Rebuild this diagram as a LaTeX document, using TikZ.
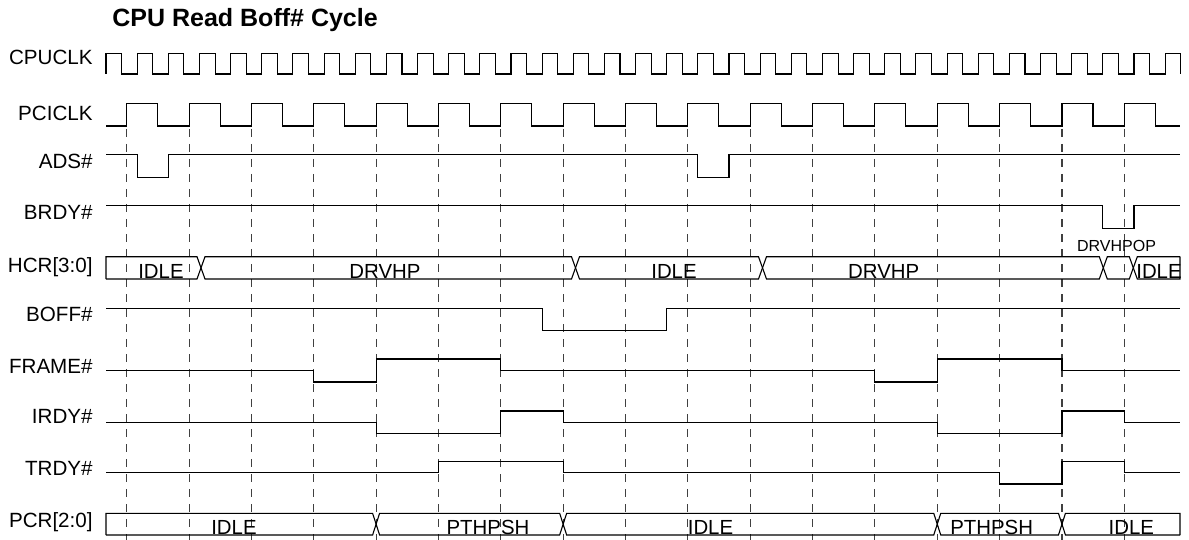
\documentclass[tikz,border=0pt]{standalone}
\usepackage{fontspec}
\setmainfont{Liberation Sans}

\begin{document}
\begin{tikzpicture}[x=0.5pt, y=-0.5pt,
    declare function={pe(\k)=126.7+62.35*\k; ce(\k)=106+31.15*\k;}]
     		%define styles
     		\tikzset{
     			wave/.style={line width=0.55pt, black},
     			gridline/.style={line width=0.55pt, black!75, dash pattern=on 4pt off 3.5pt},
     			signame/.style={anchor=base east, inner sep=0pt, font=\fontsize{10.3}{12}\selectfont},
     			busval/.style={anchor=base, inner sep=0pt, font=\fontsize{10.2}{12}\selectfont},
     			smallval/.style={anchor=base, inner sep=0pt, font=\fontsize{8}{10}\selectfont},}
     		\useasboundingbox (0,0) rectangle (1189,540);
     		%title
     		\node[anchor=base west, inner sep=0pt, font=\fontsize{12.5}{14}\selectfont\bfseries] (title) at (112,26.7) {CPU Read Boff\# Cycle};
     		%signal names
     		\node[signame] (cpuclk) at (93,65) {CPUCLK};
     		\node[signame] (pciclk) at (93,120) {PCICLK};
     		\node[signame] (ads) at (93,168.3) {ADS\#};
     		\node[signame] (brdy) at (93,220) {BRDY\#};
     		\node[signame] (hcr) at (93,272) {HCR[3:0]};
     		\node[signame] (boff) at (93,321.7) {BOFF\#};
     		\node[signame] (frame) at (93,373.3) {FRAME\#};
     		\node[signame] (irdy) at (93,423.3) {IRDY\#};
     		\node[signame] (trdy) at (93,475) {TRDY\#};
     		\node[signame] (pcr) at (93,527) {PCR[2:0]};
     		%pci clock edges
     		\foreach \k in {0,...,16}
     			\draw[gridline] ({pe(\k)},129) -- ({pe(\k)},540);
     		%clocks
     		\draw[wave] (106,74) \foreach \k in {0,...,34} {-- ({ce(\k)},74) -- ({ce(\k)},53.3) -- ({ce(\k)+15.6},53.3) -- ({ce(\k)+15.6},74)};
     		\draw[wave] (106,126) \foreach \k in {0,...,16} {-- ({pe(\k)},126) -- ({pe(\k)},103.5) -- ({pe(\k)+31},103.5) -- ({pe(\k)+31},126)} -- (1180,126);
     		%cpu side
     		\draw[wave] (106,154.3) -- ({ce(1)},154.3) -- ({ce(1)},177.3) -- ({ce(2)},177.3) -- ({ce(2)},154.3)
     			-- ({ce(19)},154.3) -- ({ce(19)},177.3) -- ({ce(20)},177.3) -- ({ce(20)},154.3) -- (1180,154.3);
     		\draw[wave] (106,205.7) -- ({ce(32)},205.7) -- ({ce(32)},228.3) -- ({ce(33)},228.3) -- ({ce(33)},205.7) -- (1180,205.7);
     		\draw[wave] (106,279) -- (106,256.7) -- (197,256.7) -- (205,279) -- (571.5,279) -- (579.5,256.7) -- (758.5,256.7) -- (766.5,279)
     			-- (1099.3,279) -- (1107.3,256.7) -- (1129.3,256.7) -- (1137.3,279) -- (1180,279) -- (1180,256.7);
     		\draw[wave] (106,279) -- (197,279) -- (205,256.7) -- (571.5,256.7) -- (579.5,279) -- (758.5,279) -- (766.5,256.7)
     			-- (1099.3,256.7) -- (1107.3,279) -- (1129.3,279) -- (1137.3,256.7) -- (1180,256.7);
     		\node[busval] (hcr1) at (161,278) {IDLE};
     		\node[busval] (hcr2) at (385,278) {DRVHP};
     		\node[busval] (hcr3) at (674,278) {IDLE};
     		\node[busval] (hcr4) at (883.7,278) {DRVHP};
     		\node[smallval] (hcr5) at (1116.5,251.7) {DRVHPOP};
     		\node[busval] (hcr6) at (1159,278) {IDLE};
     		\draw[wave] (106,308.3) -- ({ce(14)},308.3) -- ({ce(14)},330.7) -- ({ce(18)},330.7) -- ({ce(18)},308.3) -- (1180,308.3);
     		%pci side
     		\draw[wave] (106,370.7) -- ({pe(3)},370.7) -- ({pe(3)},382) -- ({pe(4)},382) -- ({pe(4)},359) -- ({pe(6)},359) -- ({pe(6)},370.7)
     			-- ({pe(12)},370.7) -- ({pe(12)},382) -- ({pe(13)},382) -- ({pe(13)},359) -- ({pe(15)},359) -- ({pe(15)},370.7) -- (1180,370.7);
     		\draw[wave] (106,422.3) -- ({pe(4)},422.3) -- ({pe(4)},433.3) -- ({pe(6)},433.3) -- ({pe(6)},411) -- ({pe(7)},411) -- ({pe(7)},422.3)
     			-- ({pe(13)},422.3) -- ({pe(13)},433.3) -- ({pe(15)},433.3) -- ({pe(15)},411) -- ({pe(16)},411) -- ({pe(16)},422.3) -- (1180,422.3);
     		\draw[wave] (106,472.7) -- ({pe(5)},472.7) -- ({pe(5)},461.7) -- ({pe(7)},461.7) -- ({pe(7)},472.7)
     			-- ({pe(14)},472.7) -- ({pe(14)},484) -- ({pe(15)},484) -- ({pe(15)},461.7) -- ({pe(16)},461.7) -- ({pe(16)},472.7) -- (1180,472.7);
     		\draw[wave] (106,535) -- (106,513.3) -- ({pe(4)-3.5},513.3) -- ({pe(4)+3.5},535) -- ({pe(7)-3.5},535) -- ({pe(7)+3.5},513.3)
     			-- ({pe(13)-3.5},513.3) -- ({pe(13)+3.5},535) -- ({pe(15)-3.5},535) -- ({pe(15)+3.5},513.3) -- (1180,513.3) -- (1180,535);
     		\draw[wave] (106,535) -- ({pe(4)-3.5},535) -- ({pe(4)+3.5},513.3) -- ({pe(7)-3.5},513.3) -- ({pe(7)+3.5},535)
     			-- ({pe(13)-3.5},535) -- ({pe(13)+3.5},513.3) -- ({pe(15)-3.5},513.3) -- ({pe(15)+3.5},535) -- (1180,535);
     		\node[busval] (pcr1) at (234,534) {IDLE};
     		\node[busval] (pcr2) at (488,534) {PTHPSH};
     		\node[busval] (pcr3) at (710.5,534) {IDLE};
     		\node[busval] (pcr4) at (991.7,534) {PTHPSH};
     		\node[busval] (pcr5) at (1131.3,534) {IDLE};
     	\end{tikzpicture}
\end{document}
